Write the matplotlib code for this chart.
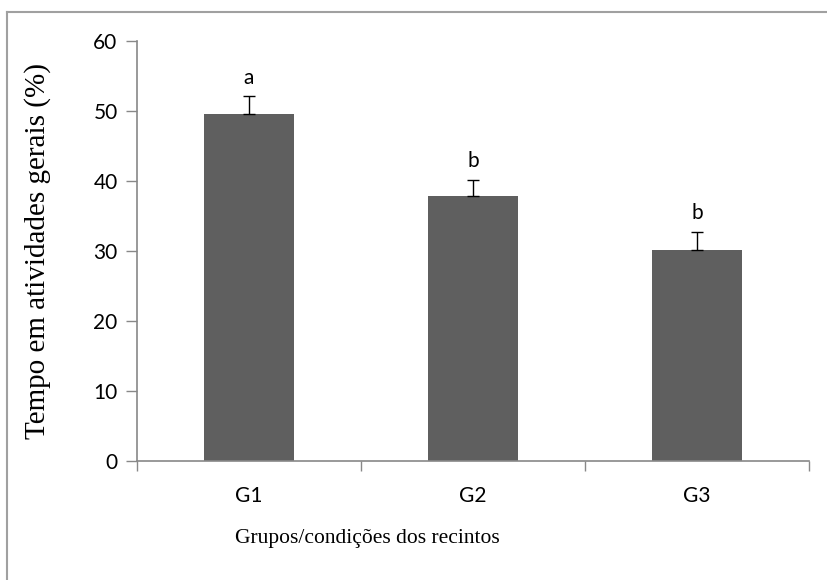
import matplotlib
matplotlib.use("Agg")
import matplotlib.pyplot as plt
from matplotlib.lines import Line2D
import numpy as np

categories = ["G1", "G2", "G3"]
values = [49.5, 37.9, 30.1]
errors = [2.6, 2.3, 2.6]
letters = ["a", "b", "b"]
yticks = [0, 10, 20, 30, 40, 50, 60]

axis_gray = "#888888"
bar_color = "#5f5f5f"

fig = plt.figure(figsize=(8.27, 5.80), dpi=100)
ax = fig.add_axes([137/827, 1 - 460.7/580, (809-137)/827, (460.7-41)/580])

x = np.arange(len(categories))
ax.bar(x, values, width=0.4, color=bar_color, zorder=2)
ax.errorbar(x, values, yerr=[np.zeros(len(errors)), errors], fmt="none",
            ecolor="black", elinewidth=1.0, capsize=4, capthick=1.0, zorder=3)
for xi, v, e, l in zip(x, values, errors, letters):
    ax.annotate(l, (xi, v + e), xytext=(0, 9), textcoords="offset points",
                ha="center", va="baseline", fontsize=15, family="Lato")

ax.set_xlim(-0.5, len(categories) - 0.5)
ax.set_ylim(0, 60)
ax.set_yticks(yticks)
ax.set_yticklabels([str(t) for t in yticks], family="Lato", fontsize=15)
ax.set_xticks(x)
ax.set_xticklabels(categories, family="Lato", fontsize=15)
ax.tick_params(axis="x", length=0, pad=18)
ax.tick_params(axis="y", length=8, width=1, color=axis_gray, pad=6)
# category boundary ticks on x
ax.set_xticks(np.arange(len(categories) + 1) - 0.5, minor=True)
ax.tick_params(axis="x", which="minor", length=7, width=1, color=axis_gray)

for s in ["top", "right"]:
    ax.spines[s].set_visible(False)
for s in ["left", "bottom"]:
    ax.spines[s].set_color(axis_gray)
    ax.spines[s].set_linewidth(1.2)

fig.text(38/827, 1 - 251/580, "Tempo em atividades gerais (%)", rotation=90,
         ha="center", va="center", family="Liberation Serif", fontsize=21)
fig.text(367/827, 1 - 538/580, "Grupos/condições dos recintos",
         ha="center", va="center", family="Liberation Serif", fontsize=15.5)

# outer frame (top and left visible)
fig.add_artist(Line2D([7/827, 1.0], [1 - 12/580, 1 - 12/580], transform=fig.transFigure,
                      color="#a0a0a0", linewidth=1.5))
fig.add_artist(Line2D([7/827, 7/827], [0, 1 - 12/580], transform=fig.transFigure,
                      color="#a0a0a0", linewidth=1.5))

fig.savefig("out.png", dpi=100)
